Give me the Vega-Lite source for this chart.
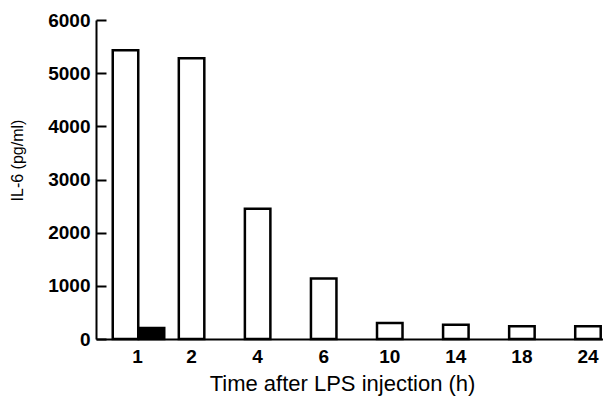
{
  "$schema": "https://vega.github.io/schema/vega-lite/v6.json",
  "width": 507,
  "height": 319,
  "autosize": {"type": "none"},
  "padding": {"left": 96, "top": 20, "right": 0, "bottom": 57},
  "background": "white",
  "config": {"view": {"stroke": null}, "font": "Liberation Sans"},
  "data": {"values": [
    {"time": "1", "group": "LPS", "il6": 5430},
    {"time": "2", "group": "LPS", "il6": 5280},
    {"time": "4", "group": "LPS", "il6": 2450},
    {"time": "6", "group": "LPS", "il6": 1140},
    {"time": "10", "group": "LPS", "il6": 300},
    {"time": "14", "group": "LPS", "il6": 270},
    {"time": "18", "group": "LPS", "il6": 240},
    {"time": "24", "group": "LPS", "il6": 240},
    {"time": "1", "group": "control", "il6": 205}
  ]},
  "encoding": {
    "x": {
      "field": "time", "type": "ordinal",
      "scale": {"domain": ["1","2","4","6","10","14","18","24"], "paddingInner": 0.614, "paddingOuter": 0.144, "align": 0.88},
      "axis": {
        "title": "Time after LPS injection (h)",
        "titleFont": "Liberation Sans", "titleFontSize": 22, "titleFontWeight": "normal", "titleColor": "black",
        "titleX": 246, "titleY": 44, "titleBaseline": "middle", "titleAlign": "center",
        "labelAngle": 0, "labelFont": "Liberation Sans", "labelFontSize": 19, "labelFontWeight": "bold", "labelColor": "black",
        "labelPadding": 8,
        "labelOffset": {"condition": {"test": "datum.value == '1'", "value": 12}, "value": 0},
        "ticks": false, "domainColor": "black", "domainWidth": 2, "grid": false
      }
    }
  },
  "layer": [
    {
      "transform": [{"filter": "datum.group == 'LPS'"}],
      "mark": {"type": "bar", "fill": "white", "stroke": "black", "strokeWidth": 2.5},
      "encoding": {
        "y": {
          "field": "il6", "type": "quantitative",
          "scale": {"domain": [0, 6000], "nice": false},
          "axis": {
            "orient": "left",
            "offset": -10,
            "title": "IL-6 (pg/ml)",
            "titleFont": "Liberation Sans", "titleFontSize": 16, "titleFontWeight": "normal", "titleColor": "black",
            "titleX": -89, "titleY": 140, "titleAngle": -90, "titleBaseline": "middle", "titleAlign": "center",
            "values": [0, 1000, 2000, 3000, 4000, 5000, 6000],
            "format": "d",
            "labelFont": "Liberation Sans", "labelFontSize": 19, "labelFontWeight": "bold", "labelColor": "black",
            "labelPadding": 6,
            "ticks": true, "tickSize": 10, "tickColor": "black", "tickWidth": 2,
            "domain": false, "grid": false
          }
        }
      }
    },
    {
      "transform": [{"filter": "datum.group == 'control'"}],
      "mark": {"type": "bar", "fill": "black", "stroke": "black", "strokeWidth": 2.5, "xOffset": 26},
      "encoding": {
        "y": {
          "field": "il6", "type": "quantitative",
          "axis": {
            "orient": "right",
            "offset": -507,
            "title": null,
            "labels": false,
            "ticks": false,
            "grid": false,
            "domain": true, "domainColor": "black", "domainWidth": 2
          }
        }
      }
    }
  ],
  "resolve": {"axis": {"y": "independent"}, "scale": {"y": "shared"}}
}
